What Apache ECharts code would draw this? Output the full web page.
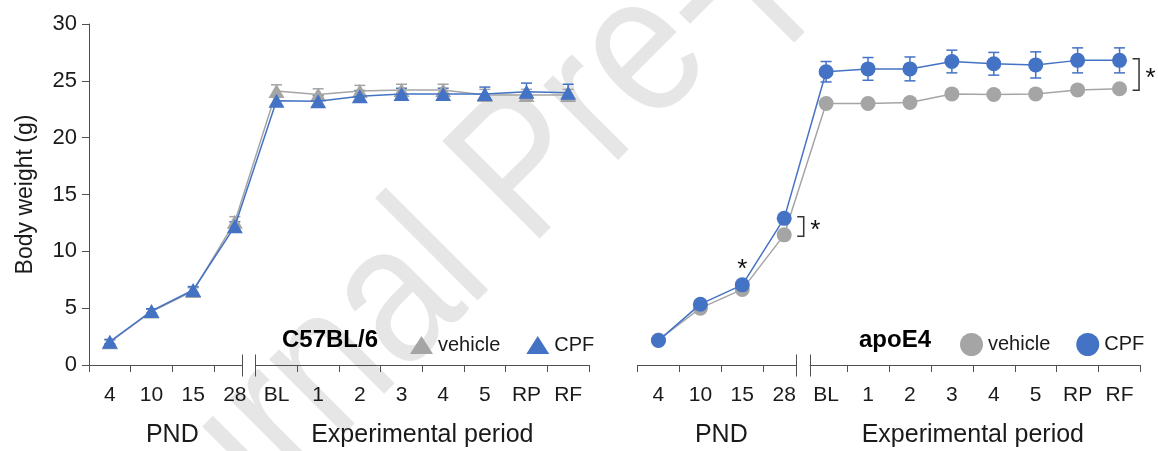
<!DOCTYPE html>
<html><head><meta charset="utf-8">
<script src="https://cdn.jsdelivr.net/npm/echarts@6/dist/echarts.min.js"></script>
<style>html,body{margin:0;padding:0;background:#fff}#c{width:1158px;height:451px}</style>
</head><body><div id="c"></div>
<script>
// ---- data ----
const categories = ['4','10','15','28','BL','1','2','3','4','5','RP','RF'];
const groupNames = ['PND', 'Experimental period'];
const panelTitles = ['C57BL/6', 'apoE4'];
const seriesNames = ['vehicle', 'CPF'];
const c57Vehicle    = [2.0, 4.7, 6.5, 12.6, 24.1, 23.8, 24.1, 24.2, 24.2, 23.75, 23.75, 23.75];
const c57VehicleErr = [0.2, 0.2, 0.3, 0.45, 0.55, 0.5, 0.5, 0.5, 0.5, 0.5, 0.5, 0.5];
const c57Cpf        = [2.05, 4.75, 6.6, 12.2, 23.25, 23.2, 23.65, 23.85, 23.85, 23.85, 24.05, 23.95];
const c57CpfErr     = [0.2, 0.2, 0.3, 0.4, 0.5, 0.5, 0.5, 0.5, 0.5, 0.6, 0.75, 0.75];
const apoVehicle    = [2.2, 5.0, 6.65, 11.45, 23.0, 23.0, 23.1, 23.85, 23.8, 23.85, 24.2, 24.3];
const apoVehicleErr = [0.1, 0.2, 0.2, 0.3, 0.3, 0.3, 0.3, 0.3, 0.3, 0.3, 0.3, 0.3];
const apoCpf        = [2.15, 5.35, 7.05, 12.9, 25.8, 26.05, 26.05, 26.7, 26.5, 26.4, 26.8, 26.8];
const apoCpfErr     = [0.1, 0.2, 0.2, 0.3, 0.9, 1.0, 1.05, 1.0, 1.0, 1.15, 1.1, 1.1];
const yMin = 0, yMax = 30, yStep = 5;
const starAbovePoint = [2];        // apoE4 CPF index with '*'
const bracketPoints = [3, 11];     // apoE4 indices with ']*'

// ---- styles ----
const FONT = 'Liberation Sans, Arial, sans-serif';
const GRAY = '#A5A5A5', BLUE = '#4472C4', AXIS = '#505050', TXT = '#1a1a1a';
const breakOffsets = [[-13.5, -0.5], [-9, 4.5]];

const chart = echarts.init(document.getElementById('c'), null, {renderer: 'canvas'});

function errSeries(name, gi, vals, errs, color) {
  return {
    type: 'custom', name: name + '_err', xAxisIndex: gi, yAxisIndex: gi, z: 1,
    silent: true,
    data: vals.map((v, i) => [i, v, errs[i]]),
    encode: {x: 0, y: 1},
    renderItem: function (params, api) {
      const i = api.value(0), v = api.value(1), e = api.value(2);
      const hi = api.coord([i, v + e]), lo = api.coord([i, v - e]);
      const w = 5.5;
      const st = {stroke: color, lineWidth: 1.5};
      return {type: 'group', children: [
        {type: 'line', shape: {x1: hi[0], y1: hi[1], x2: lo[0], y2: lo[1]}, style: st},
        {type: 'line', shape: {x1: hi[0] - w, y1: hi[1], x2: hi[0] + w, y2: hi[1]}, style: st},
        {type: 'line', shape: {x1: lo[0] - w, y1: lo[1], x2: lo[0] + w, y2: lo[1]}, style: st}
      ]};
    }
  };
}
function lineSeries(name, gi, vals, color, symbol, size, z) {
  return {
    type: 'line', name: name, xAxisIndex: gi, yAxisIndex: gi, data: vals, z: z,
    symbol: symbol, symbolSize: size, showSymbol: true,
    itemStyle: {color: color, opacity: 1},
    lineStyle: {color: color, width: 1.5},
    emphasis: {disabled: true}
  };
}
function xAxisDef(gi) {
  return {
    type: 'category', gridIndex: gi, data: categories, boundaryGap: true,
    axisLine: {show: false},
    axisTick: {show: true, length: 7, interval: (i) => i !== 4, lineStyle: {color: AXIS, width: 1}},
    axisLabel: {interval: 0, margin: 20, fontSize: 21, color: TXT, fontFamily: FONT},
    splitLine: {show: false}
  };
}

const option = {
  animation: false,
  backgroundColor: '#fff',
  textStyle: {fontFamily: FONT},
  grid: [
    {left: 89, top: 24, width: 500, height: 341},
    {left: 637.5, top: 24, width: 503, height: 341}
  ],
  xAxis: [xAxisDef(0), xAxisDef(1)],
  yAxis: [
    {type: 'value', gridIndex: 0, min: yMin, max: yMax, interval: yStep,
     axisLine: {show: true, lineStyle: {color: AXIS, width: 1}},
     axisTick: {show: true, length: 7, lineStyle: {color: AXIS}},
     axisLabel: {fontSize: 22, margin: 12, color: TXT, fontFamily: FONT},
     splitLine: {show: false},
     name: 'Body weight (g)', nameLocation: 'middle', nameGap: 52,
     nameTextStyle: {fontSize: 23, color: TXT, fontFamily: FONT}},
    {type: 'value', gridIndex: 1, min: yMin, max: yMax, interval: yStep, show: false,
     splitLine: {show: false}}
  ],
  legend: [
    {data: [{name: seriesNames[0], icon: 'triangle'}, {name: seriesNames[1], icon: 'triangle'}],
     left: 405, top: 330, itemWidth: 23, itemHeight: 18, itemGap: 26, selectedMode: false,
     textStyle: {fontSize: 20, color: TXT, fontFamily: FONT}},
    {data: [{name: seriesNames[0], icon: 'circle'}, {name: seriesNames[1], icon: 'circle'}],
     left: 955, top: 328, itemWidth: 23, itemHeight: 23, itemGap: 26, selectedMode: false,
     textStyle: {fontSize: 20, color: TXT, fontFamily: FONT}}
  ],
  series: [
    errSeries(seriesNames[0], 0, c57Vehicle, c57VehicleErr, GRAY),
    errSeries(seriesNames[1], 0, c57Cpf, c57CpfErr, BLUE),
    lineSeries(seriesNames[0], 0, c57Vehicle, GRAY, 'triangle', [16, 14], 3),
    lineSeries(seriesNames[1], 0, c57Cpf, BLUE, 'triangle', [16, 14], 4),
    errSeries(seriesNames[0], 1, apoVehicle, apoVehicleErr, GRAY),
    errSeries(seriesNames[1], 1, apoCpf, apoCpfErr, BLUE),
    lineSeries(seriesNames[0], 1, apoVehicle, GRAY, 'circle', 15, 3),
    lineSeries(seriesNames[1], 1, apoCpf, BLUE, 'circle', 15, 4)
  ]
};
chart.setOption(option);

// ---- decorations computed from the library's scales ----
const g = [];
// watermark (condensed, rotated)
const wmAngle = 45 * Math.PI / 180, wmScale = 0.85;
g.push({type: 'text', x: 63, y: 637, rotation: wmAngle, scaleX: wmScale, scaleY: 1, z: -10, silent: true,
  style: {text: 'Journal Pre-proof', x: 0, y: 0, font: '200px ' + FONT, fill: '#e6e6e6',
          align: 'left', verticalAlign: 'middle', textAlign: 'left', textVerticalAlign: 'middle'}});

const titleX = [282, 859];
for (let gi = 0; gi < 2; gi++) {
  const p0 = chart.convertToPixel({gridIndex: gi}, [0, 0]);
  const p1 = chart.convertToPixel({gridIndex: gi}, [1, 0]);
  const band = p1[0] - p0[0];
  const x0 = p0[0] - band / 2, y0 = Math.round(p0[1]) + 0.5;
  const xEnd = x0 + categories.length * band;
  const xb = x0 + 4 * band;
  const gl = xb + breakOffsets[gi][0], gr = xb + breakOffsets[gi][1];
  const st = {stroke: AXIS, lineWidth: 1};
  g.push({type: 'line', z: 10, shape: {x1: x0, y1: y0, x2: gl, y2: y0}, style: st});
  g.push({type: 'line', z: 10, shape: {x1: gr, y1: y0, x2: xEnd, y2: y0}, style: st});
  g.push({type: 'line', z: 10, shape: {x1: Math.round(gl) + 0.5, y1: y0 - 11, x2: Math.round(gl) + 0.5, y2: y0 + 11}, style: st});
  g.push({type: 'line', z: 10, shape: {x1: Math.round(gr) + 0.5, y1: y0 - 11, x2: Math.round(gr) + 0.5, y2: y0 + 11}, style: st});
  // group names
  g.push({type: 'text', z: 10, x: x0 + 2 * band, y: 435,
    style: {text: groupNames[0], font: '25px ' + FONT, fill: TXT, align: 'center', verticalAlign: 'middle', textAlign: 'center', textVerticalAlign: 'middle'}});
  g.push({type: 'text', z: 10, x: x0 + 8 * band, y: 435,
    style: {text: groupNames[1], font: '25px ' + FONT, fill: TXT, align: 'center', verticalAlign: 'middle', textAlign: 'center', textVerticalAlign: 'middle'}});
  // panel title
  g.push({type: 'text', z: 10, x: titleX[gi], y: 340,
    style: {text: panelTitles[gi], font: 'bold 24px ' + FONT, fill: '#000', align: 'left', verticalAlign: 'middle', textAlign: 'left', textVerticalAlign: 'middle'}});
}
// significance marks (apoE4 panel)
const starFont = '26px ' + FONT;
starAbovePoint.forEach(function (i) {
  const p = chart.convertToPixel({gridIndex: 1}, [i, apoCpf[i]]);
  g.push({type: 'text', z: 10, x: p[0], y: p[1] - 15.5,
    style: {text: '*', font: starFont, fill: '#111', align: 'center', verticalAlign: 'middle', textAlign: 'center', textVerticalAlign: 'middle'}});
});
bracketPoints.forEach(function (i) {
  const pa = chart.convertToPixel({gridIndex: 1}, [i, apoCpf[i]]);
  const pb = chart.convertToPixel({gridIndex: 1}, [i, apoVehicle[i]]);
  const xa = pa[0] + 13, xbk = pa[0] + 19.5;
  const top = pa[1] - 1.5, bot = pb[1] + 1.5;
  g.push({type: 'polyline', z: 10, shape: {points: [[xa, top], [xbk, top], [xbk, bot], [xa, bot]]},
    style: {stroke: '#333', lineWidth: 1.5, fill: null}});
  g.push({type: 'text', z: 10, x: pa[0] + 31, y: (top + bot) / 2 + 4,
    style: {text: '*', font: starFont, fill: '#111', align: 'center', verticalAlign: 'middle', textAlign: 'center', textVerticalAlign: 'middle'}});
});
chart.setOption({graphic: {elements: g}});
</script>
</body></html>
